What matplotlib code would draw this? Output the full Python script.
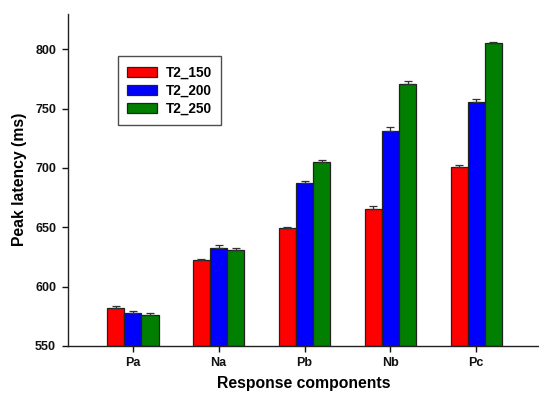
import numpy as np
import matplotlib
matplotlib.use("Agg")
import matplotlib.pyplot as plt

plt.rcParams['font.family'] = ['Liberation Sans', 'DejaVu Sans']
plt.rcParams['font.weight'] = 'bold'

components = ["Pa", "Na", "Pb", "Nb", "Pc"]
series_names = ["T2_150", "T2_200", "T2_250"]
t2_150 = [581.5, 622.0, 649.0, 665.5, 701.0]
t2_200 = [578.0, 632.8, 687.0, 731.5, 756.0]
t2_250 = [575.8, 630.5, 704.8, 771.0, 805.0]
err_150 = [2.0, 1.3, 1.2, 2.2, 1.6]
err_200 = [1.3, 2.2, 1.8, 2.8, 1.8]
err_250 = [1.7, 2.4, 1.6, 2.2, 1.5]
colors = ["#ff0000", "#0000ff", "#007f00"]

values = [t2_150, t2_200, t2_250]
errors = [err_150, err_200, err_250]

fig = plt.figure(figsize=(5.39, 3.93), dpi=100)
ax = fig.add_axes([0.126, 0.12, 0.874, 0.845])

x = np.arange(1, len(components) + 1)
width = 0.2
for i, (vals, errs, col, name) in enumerate(zip(values, errors, colors, series_names)):
    pos = x + (i - 1) * width
    ax.bar(pos, np.array(vals) - 550, bottom=550, width=width, color=col,
           edgecolor="#222222", linewidth=0.9, label=name, zorder=2)
    ax.errorbar(pos, vals, yerr=[np.zeros(len(errs)), errs], fmt="none",
                ecolor="#333333", elinewidth=0.9, capsize=3.2, capthick=0.9, zorder=3)

ax.set_xlim(0.245, 5.73)
ax.set_ylim(550, 830)
ax.set_yticks([550, 600, 650, 700, 750, 800])
ax.set_xticks(x)
ax.set_xticklabels(components)
ax.spines["top"].set_visible(False)
ax.spines["right"].set_visible(False)
for s in ("left", "bottom"):
    ax.spines[s].set_linewidth(1.0)
    ax.spines[s].set_color("#222222")
ax.tick_params(axis="both", labelsize=9, width=1.0, length=4, direction="out", colors="#111111")
ax.tick_params(axis="x", pad=4)
ax.tick_params(axis="y", pad=4.5)
for lab in ax.get_xticklabels() + ax.get_yticklabels():
    lab.set_fontweight("bold")

ax.set_xlabel("Response components", fontsize=11.3, fontweight="bold", labelpad=5)
ax.set_ylabel("Peak latency (ms)", fontsize=11.3, fontweight="bold", labelpad=6)

leg = ax.legend(loc="upper left", bbox_to_anchor=(0.106, 0.873), frameon=True,
                fancybox=False, edgecolor="#222222", fontsize=9.8,
                handlelength=2.2, handleheight=0.72, borderpad=0.7,
                labelspacing=0.3, handletextpad=0.6, borderaxespad=0)
leg.get_frame().set_linewidth(1.0)
for t in leg.get_texts():
    t.set_fontweight("bold")

fig.savefig("out.png", dpi=100)
